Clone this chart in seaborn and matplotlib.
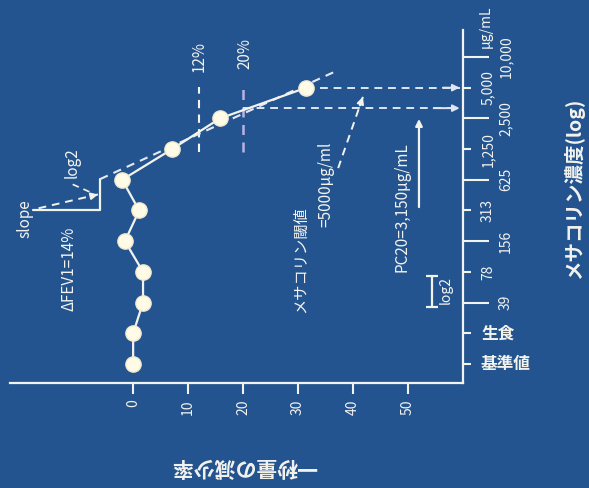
import numpy as np
import pandas as pd
import matplotlib
matplotlib.use("Agg")
import matplotlib.pyplot as plt
import seaborn as sns

# Methacholine inhalation steps (μg/mL) and FEV1 fall (%) after each step
steps = ["基準値", "生食", "39", "78", "156", "313", "625",
         "1,250", "2,500", "5,000", "10,000"]
fev1_drop = [0.0, 0.0, 1.8, 1.8, -1.5, 1.1, -2.0, 7.1, 15.8, 31.5]
drop_ticks = [0, 10, 20, 30, 40, 50]
drop_12 = 12
drop_20 = 20
pc20_conc = 3150          # μg/mL
threshold_conc = 5000     # μg/mL
delta_fev1 = 14           # % per doubling

bg = "#24548f"
fg = "#f3f3ee"
lav = "#b9b2e2"

sns.set_theme(style="white")
plt.rcParams["font.family"] = ["Noto Sans CJK JP", "DejaVu Sans"]

df = pd.DataFrame({"step": np.arange(len(fev1_drop)), "drop": fev1_drop})

fig = plt.figure(figsize=(5.89, 4.88), dpi=100, facecolor=bg)
ax = fig.add_axes([0.017, 0.2152, 0.769, 0.7234])
ax.set_facecolor(bg)

sns.lineplot(data=df, x="drop", y="step", sort=False, estimator=None,
             color=fg, lw=1.6, marker="o", markersize=11,
             markerfacecolor="#fffbe6", markeredgecolor="#f1ead0",
             markeredgewidth=1.0, ax=ax, zorder=5)

ax.set_xlim(-22.4, 60)
ax.set_ylim(-0.62, 10.88)

# axes: only bottom and right spines
for side in ["left", "top"]:
    ax.spines[side].set_visible(False)
for side in ["bottom", "right"]:
    ax.spines[side].set_color(fg)
    ax.spines[side].set_linewidth(1.6)

ax.set_xticks(drop_ticks, labels=[str(v) for v in drop_ticks])
ax.tick_params(axis="x", bottom=True, direction="out", length=8, width=1.5,
               color=fg, labelcolor=fg, labelsize=10, labelrotation=90, pad=4)

major_idx = [2, 4, 6, 8, 10]
minor_idx = [0, 1, 3, 5, 7, 9]
ax.yaxis.tick_right()
ax.set_yticks(major_idx, labels=[steps[i] for i in major_idx])
ax.set_yticks(minor_idx, labels=[steps[i] for i in minor_idx], minor=True)
ax.tick_params(axis="y", which="major", left=False, right=True, labelleft=False,
               labelright=True, direction="out", length=19, width=1.5,
               color=fg, labelcolor=fg, labelsize=10, pad=7)
ax.tick_params(axis="y", which="minor", left=False, right=True, labelleft=False,
               labelright=True, direction="out", length=6, width=1.5,
               color=fg, labelcolor=fg, labelsize=10, pad=7)
for lbl in ax.yaxis.get_ticklabels(which="both"):
    txt = lbl.get_text()
    lbl.set_va("center")
    if txt[0].isdigit():
        lbl.set_rotation(90)
    else:
        lbl.set_fontsize(12)
        lbl.set_fontweight("bold")
ax.text(1.035, 11.0, "μg/mL", transform=ax.get_yaxis_transform(),
        rotation=90, ha="left", va="center", color=fg, fontsize=10,
        clip_on=False)

ax.set_xlabel("一秒量の減少率", rotation=180, color=fg, fontsize=15,
              fontweight="bold", va="center", ha="center")
ax.xaxis.set_label_coords(0.517, -0.238)
ax.yaxis.set_label_position("right")
ax.set_ylabel("メサコリン濃度(log)", rotation=90, color=fg, fontsize=14,
              fontweight="bold")
ax.yaxis.label.set_rotation_mode("default")
ax.yaxis.label.set_va("center")
ax.yaxis.label.set_ha("center")
ax.yaxis.set_label_coords(1.245, 0.552)
ax.grid(False)

dash = (0, (4, 3))


def dashed_arrow(p0, p1, color=fg, lw=1.4):
    ax.plot([p0[0], p1[0]], [p0[1], p1[1]], ls=dash, color=color, lw=lw)
    q = (p1[0] - 0.12 * (p1[0] - p0[0]), p1[1] - 0.12 * (p1[1] - p0[1]))
    ax.annotate("", xy=p1, xytext=q,
                arrowprops=dict(arrowstyle="-|>", color=color, lw=lw,
                                mutation_scale=10, shrinkA=0, shrinkB=0))


# fitted dose-response slope through the last three steps
idx = np.arange(len(fev1_drop))
slope, icpt = np.polyfit(idx[-3:], fev1_drop[-3:], 1)
x_corner = -6.0
s0 = (x_corner - icpt) / slope
s1 = 9.5
ax.plot([slope * s0 + icpt, slope * s1 + icpt], [s0, s1], ls=dash,
        color="#e6e8f2", lw=1.5, zorder=4)

# slope triangle: one doubling step vs. FEV1 change
ax.plot([x_corner, x_corner, x_corner - slope], [s0, s0 - 1, s0 - 1],
        color=fg, lw=1.6)
dashed_arrow((x_corner - slope + 1.0, s0 - 0.95), (x_corner - 0.4, s0 - 0.5))
ax.plot([-11.0, x_corner - 1.5], [5.85, s0 - 0.45], ls=dash, color=fg, lw=1.2)
ax.text(-19.6, 4.72, "slope", rotation=90, ha="center", va="center",
        color=fg, fontsize=11)
ax.text(-11.1, 6.55, "log2", rotation=90, ha="center", va="center",
        color=fg, fontsize=11)
ax.text(-11.6, 3.09, f"ΔFEV1={delta_fev1}%", rotation=90, ha="center",
        va="center", color=fg, fontsize=11)

# 12% and 20% fall thresholds
ax.plot([drop_12, drop_12], [6.9, 9.02], ls=dash, color=fg, lw=1.5)
ax.plot([drop_20, drop_20], [6.9, 9.02], ls=dash, color=lav, lw=1.8)
ax.text(drop_12, 10.03, f"{drop_12}%", rotation=90, ha="center",
        va="center", color=fg, fontsize=11)
ax.text(drop_20 + 0.4, 10.1, f"{drop_20}%", rotation=90, ha="center",
        va="center", color=fg, fontsize=11)

# PC20 and threshold read-off lines to the concentration axis
pc20_step = 8 + np.log2(pc20_conc / 2500)
thr_step = 9 + np.log2(threshold_conc / 5000)
dashed_arrow((drop_20, pc20_step), (59.4, pc20_step), color="#dfe6f2")
dashed_arrow((fev1_drop[-1] + 2.5, thr_step), (59.4, thr_step),
             color="#dfe6f2")

# threshold annotation with dashed pointer
dashed_arrow((37.3, 6.38), (41.8, thr_step - 0.3))
ax.text(30.4, 3.39, "メサコリン閾値", rotation=90, ha="center", va="center",
        color=fg, fontsize=11)
ax.text(35.1, 5.86, f"={threshold_conc}μg/ml", rotation=90, ha="center",
        va="center", color=fg, fontsize=11)

# PC20 annotation with solid pointer
ax.annotate("", xy=(52.0, pc20_step - 0.35), xytext=(52.0, 5.11),
            arrowprops=dict(arrowstyle="-|>", color=fg, lw=1.6,
                            mutation_scale=10, shrinkA=0, shrinkB=0))
ax.text(48.9, 5.11, f"PC20={pc20_conc:,}μg/mL", rotation=90, ha="center",
        va="center", color=fg, fontsize=11)

# one-doubling scale bar
ax.errorbar([54.4], [2.36], yerr=0.5, fmt="none", ecolor=fg, elinewidth=1.6,
            capsize=4, capthick=1.6)
ax.text(56.9, 2.41, "log2", rotation=90, ha="center", va="center",
        color=fg, fontsize=10)

fig.savefig("out.png", dpi=100, facecolor=bg)
